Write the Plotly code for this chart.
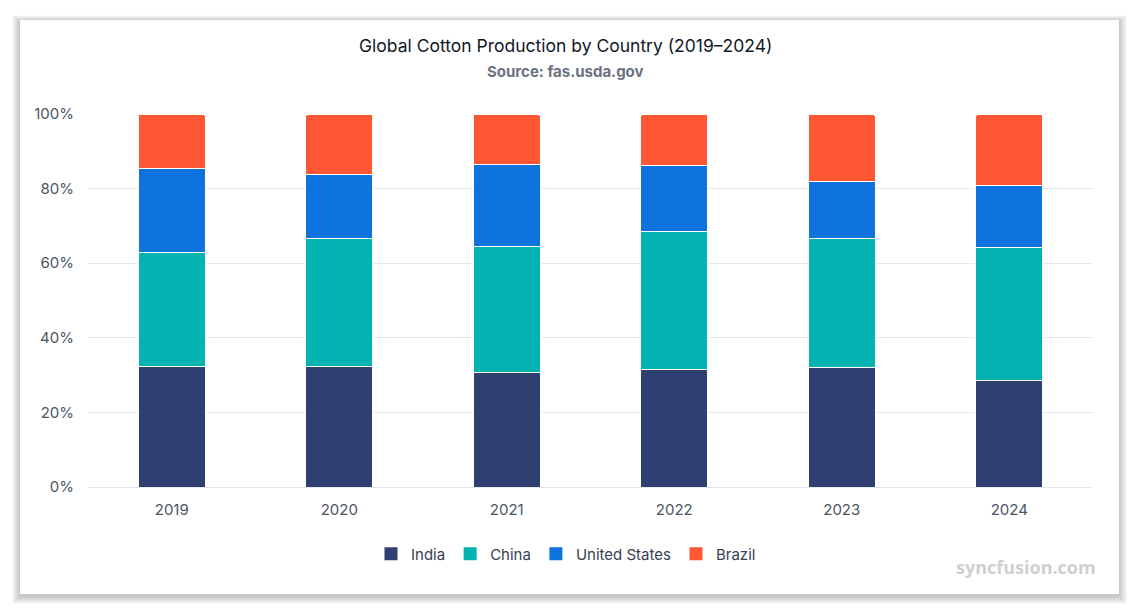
import plotly.graph_objects as go

years = ["2019", "2020", "2021", "2022", "2023", "2024"]
india = [32.4, 32.4, 30.7, 31.6, 32.0, 28.6]
china = [30.6, 34.3, 33.8, 37.0, 34.6, 35.7]
united_states = [22.4, 17.2, 22.0, 17.5, 15.2, 16.5]
brazil = [14.6, 16.1, 13.5, 13.9, 18.2, 19.2]

series = [
    ("India", india, "#2f3f72"),
    ("China", china, "#02b3b2"),
    ("United States", united_states, "#0f73de"),
    ("Brazil", brazil, "#ff5733"),
]

W, H = 1139, 615
L, R, T, B = 88, 46, 114, 128
PW, PH = W - L - R, H - T - B


def px_x(p):
    return (p - L) / PW


def px_y(p):
    return 1 - (p - T) / PH


fig = go.Figure()
for name, vals, color in series:
    fig.add_trace(go.Bar(
        x=years, y=vals, name=name, legendgroup=name, showlegend=False,
        marker=dict(color=color, line=dict(color="white", width=1)),
        hovertemplate="%{x}<br>" + name + ": %{y}%<extra></extra>",
    ))
for name, vals, color in series:
    fig.add_trace(go.Scatter(
        x=[None], y=[None], name=name, legendgroup=name, mode="markers",
        marker=dict(symbol="square", size=13, color=color), showlegend=True,
    ))

shapes = []
# card shadow
for i in range(1, 9):
    shapes.append(dict(
        type="rect", xref="paper", yref="paper", layer="below",
        x0=px_x(20 - i), x1=px_x(1119 + i), y0=px_y(596 + i), y1=px_y(21 - i * 0.7),
        line=dict(width=0), fillcolor="rgba(0,0,0,0.028)",
    ))
shapes.append(dict(
    type="rect", xref="paper", yref="paper", layer="below",
    x0=px_x(20), x1=px_x(1119), y0=px_y(594), y1=px_y(20),
    line=dict(width=0), fillcolor="white",
))

font = "Inter, Roboto, sans-serif"
fig.update_layout(
    width=W, height=H,
    margin=dict(l=L, r=R, t=T, b=B),
    paper_bgcolor="white", plot_bgcolor="rgba(0,0,0,0)",
    barmode="stack", barnorm="percent", bargap=0.6, barcornerradius=3,
    font=dict(family=font, size=15, color="#4b5563"),
    shapes=shapes,
    showlegend=True,
    legend=dict(
        orientation="h", x=px_x(566), xanchor="center", y=px_y(554), yanchor="middle",
        font=dict(size=15, color="#374151"), traceorder="normal",
        itemwidth=30, bgcolor="rgba(0,0,0,0)", itemclick=False, itemdoubleclick=False,
    ),
    annotations=[
        dict(text="Global Cotton Production by Country (2019–2024)", xref="paper", yref="paper",
             x=px_x(565), y=px_y(46), xanchor="center", yanchor="middle", showarrow=False,
             font=dict(size=17.5, color="#111827", family=font)),
        dict(text="<b>Source: fas.usda.gov</b>", xref="paper", yref="paper",
             x=px_x(565), y=px_y(72), xanchor="center", yanchor="middle", showarrow=False,
             font=dict(size=15, color="#6b7280", family=font)),
        dict(text="<b>syncfusion.com</b>", xref="paper", yref="paper",
             x=px_x(1098), y=px_y(567), xanchor="right", yanchor="middle", showarrow=False,
             font=dict(size=18, color="#cfcfcf", family="Open Sans, sans-serif")),
    ],
    xaxis=dict(
        showgrid=False, showline=True, linecolor="#e5e7eb", linewidth=1,
        ticks="", tickfont=dict(size=15, color="#4b5563"), ticklabelstandoff=9,
    ),
    yaxis=dict(
        range=[0, 100], dtick=20, ticksuffix="%", showgrid=True,
        gridcolor="#e8e8ee", gridwidth=1, zeroline=False, showline=False,
        tickfont=dict(size=15, color="#4b5563"), ticklabelstandoff=13,
    ),
)

fig.write_html("out.html")
